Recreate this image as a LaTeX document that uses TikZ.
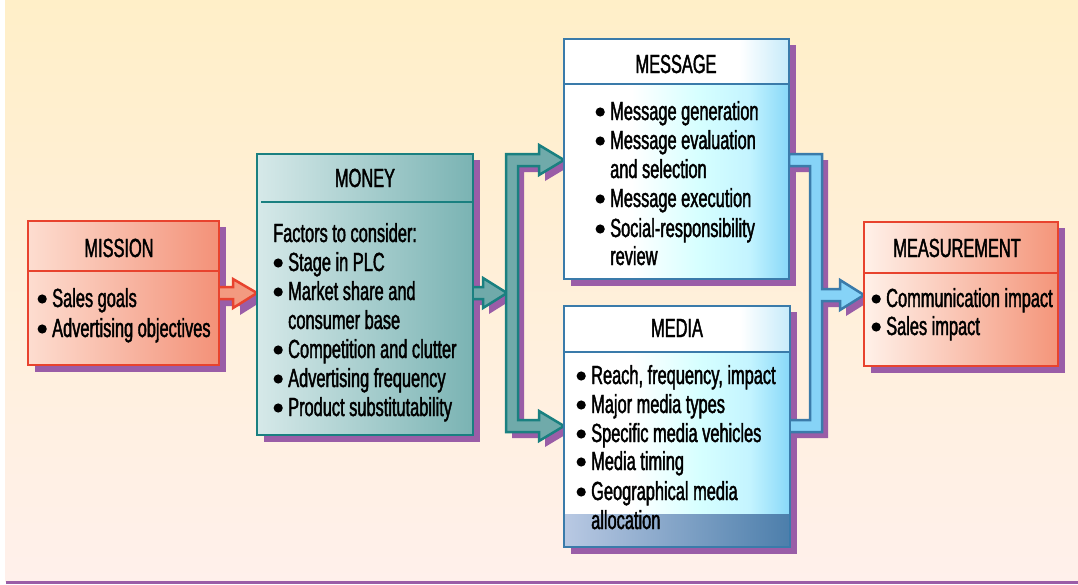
\documentclass[tikz,border=0pt]{standalone}
\usepackage{fontspec}
\usetikzlibrary{calc}
\newfontfamily\cff{Liberation Sans}[FakeStretch=0.625,FakeBold=1.6]
\definecolor{bgtop}{HTML}{FFEFC8}
\definecolor{bgbot}{HTML}{FFF0EB}
\definecolor{shad}{HTML}{9A5DA7}
\definecolor{redb}{HTML}{E8432E}
\definecolor{misL}{HTML}{FDDDD0}
\definecolor{misR}{HTML}{F39178}
\definecolor{meaL}{HTML}{FFF1E9}
\definecolor{meaR}{HTML}{F4957A}
\definecolor{marr}{HTML}{F39A80}
\definecolor{tealb}{HTML}{1A8080}
\definecolor{monL}{HTML}{D6E9E9}
\definecolor{monR}{HTML}{7AB3B3}
\definecolor{tealf}{HTML}{70AAAA}
\definecolor{blueb}{HTML}{3A7BAA}
\definecolor{bluef}{HTML}{86D3F7}
\definecolor{cyl}{HTML}{D6FFFF}
\definecolor{cym}{HTML}{C4F4FF}
\definecolor{skyb}{HTML}{88D8F8}
\definecolor{hdrb}{HTML}{C6EBFA}
\definecolor{bandL}{HTML}{B9C9E3}
\definecolor{bandR}{HTML}{4C7EAB}
\pgfdeclarehorizontalshading{msgshade}{100bp}{color(0bp)=(white); color(25bp)=(white); color(40bp)=(white); color(55bp)=(cyl); color(66bp)=(cym); color(75bp)=(skyb); color(100bp)=(skyb)}
\pgfdeclarehorizontalshading{hdrshade}{100bp}{color(0bp)=(white); color(25bp)=(white); color(64bp)=(white); color(75bp)=(hdrb); color(100bp)=(hdrb)}
\pgfdeclarelayer{bgl}
\pgfdeclarelayer{shl}
\pgfdeclarelayer{arl}
\pgfsetlayers{bgl,shl,arl,main}
\newcommand\bc{\makebox[15pt][l]{}}
\newcommand\bnode[3]{\node[txt] (#1) at (#2) {\bc #3};
  \fill ($(#1.base west)+(5.2,-8)$) circle (4.6pt);}
\begin{document}
\begin{tikzpicture}[x=1pt,y=-1pt,
  box/.style={anchor=north west, inner sep=0pt, outer sep=0pt},
  txt/.style={anchor=base west, inner sep=0pt, font=\fontsize{26.2}{29}\cff, text=black},
  hdr/.style={anchor=base, inner sep=0pt, font=\fontsize{26.2}{29}\cff, text=black},
  bord/.style={line width=2.5pt},
  tealfork/.style={insert path={(506,154) -- (539,154) -- (539,145) -- (564,160) -- (539,175) -- (539,166) -- (518,166) -- (518,420) -- (539,420) -- (539,411) -- (564,426) -- (539,441) -- (539,432) -- (506,432) -- cycle}},
  tealarr/.style={insert path={(472,287) -- (483,287) -- (483,278) -- (507,293) -- (483,308) -- (483,299) -- (472,299) -- cycle}},
  bluefork/.style={insert path={(789,154) -- (822,154) -- (822,289) -- (840,289) -- (840,280) -- (864,295) -- (840,310) -- (840,301) -- (822,301) -- (822,432) -- (789,432) -- (789,420) -- (810,420) -- (810,166) -- (789,166) -- cycle}},
  misarr/.style={insert path={(218,287) -- (233,287) -- (233,279) -- (257,293) -- (233,308) -- (233,299) -- (218,299) -- cycle}}]
\useasboundingbox (0,0) rectangle (1078,584);
\begin{pgfonlayer}{bgl}
\fill[white] (0,0) rectangle (1078,584);
\fill[top color=bgtop, bottom color=bgbot] (5,0) rectangle (1078,581);
\fill[shad] (6,581) rectangle (1078,584);
\end{pgfonlayer}
% boxes
\node[box, minimum width=191pt, minimum height=144pt, left color=misL, right color=misR] (mission) at (28,221) {};
\node[box, minimum width=216pt, minimum height=281pt, left color=monL, right color=monR] (money) at (257,154) {};
\node[box, minimum width=225pt, minimum height=240pt, shading=msgshade] (message) at (564,39) {};
\node[box, minimum width=226pt, minimum height=241pt, shading=msgshade] (media) at (564,306) {};
\node[box, minimum width=194pt, minimum height=144pt, left color=meaL, right color=meaR] (measurement) at (864,222) {};
% overlays
\fill[shading=hdrshade] (message.north west) rectangle (message.east |- 0,84);
\fill[shading=hdrshade] (media.north west) rectangle (media.east |- 0,352);
\fill[left color=bandL, right color=bandR] (media.west |- 0,514) rectangle (media.south east);
% borders
\draw[bord, redb] (mission.north west) rectangle (mission.south east);
\draw[bord, redb] (mission.west |- 0,271) -- (mission.east |- 0,271);
\draw[bord, tealb] (money.north west) rectangle (money.south east);
\draw[bord, tealb] (261,202) -- (money.east |- 0,202);
\draw[bord, blueb] (message.north west) rectangle (message.south east);
\draw[bord, blueb] (message.west |- 0,84) -- (message.east |- 0,84);
\draw[bord, blueb] (media.north west) rectangle (media.south east);
\draw[bord, blueb] (media.west |- 0,352) -- (media.east |- 0,352);
\draw[bord, redb] (measurement.north west) rectangle (measurement.south east);
\draw[bord, redb] (measurement.west |- 0,273) -- (measurement.east |- 0,273);
% shadows
\begin{pgfonlayer}{shl}
\foreach \n in {mission,money,message,media,measurement}
  \fill[shad] ($(\n.north west)+(7,6)$) rectangle ($(\n.south east)+(7,7)$);
\fill[shad, xshift=6pt, yshift=-6pt, tealfork];
\fill[shad, xshift=6pt, yshift=-6pt, tealarr];
\fill[shad, xshift=6pt, yshift=-6pt, bluefork];
\fill[shad, xshift=7pt, yshift=-7pt, misarr];
\end{pgfonlayer}
% connectors
\begin{pgfonlayer}{arl}
\filldraw[bord, fill=marr, draw=redb, line join=miter, misarr];
\filldraw[bord, fill=tealf, draw=tealb, line join=miter, tealarr];
\filldraw[bord, fill=tealf, draw=tealb, line join=miter, tealfork];
\filldraw[bord, fill=bluef, draw=blueb, line join=miter, bluefork];
\end{pgfonlayer}
% texts
\node[hdr] (hmission) at (119,257) {MISSION};
\bnode{mi1}{37,307}{Sales goals}
\bnode{mi2}{37,337}{Advertising objectives}
\node[hdr] (hmoney) at (365,187) {MONEY};
\node[txt] (mo0) at (273,242) {Factors to consider:};
\bnode{mo1}{273,271}{Stage in PLC}
\bnode{mo2}{273,300}{Market share and}
\node[txt] (mo3) at (273,329) {\bc consumer base};
\bnode{mo4}{273,358}{Competition and clutter}
\bnode{mo5}{273,387}{Advertising frequency}
\bnode{mo6}{273,416}{Product substitutability}
\node[hdr] (hmessage) at (676,73) {MESSAGE};
\bnode{me1}{595,120}{Message generation}
\bnode{me2}{595,149}{Message evaluation}
\node[txt] (me3) at (595,178) {\bc and selection};
\bnode{me4}{595,207}{Message execution}
\bnode{me5}{595,237}{Social-responsibility}
\node[txt] (me6) at (595,265) {\bc review};
\node[hdr] (hmedia) at (677,337) {MEDIA};
\bnode{md1}{576,384}{Reach, frequency, impact}
\bnode{md2}{576,413}{Major media types}
\bnode{md3}{576,442}{Specific media vehicles}
\bnode{md4}{576,470}{Media timing}
\bnode{md5}{576,500}{Geographical media}
\node[txt] (md6) at (576,529) {\bc allocation};
\node[hdr] (hmeas) at (957,257) {MEASUREMENT};
\bnode{ms1}{871,307}{Communication impact}
\bnode{ms2}{871,335}{Sales impact}
\end{tikzpicture}
\end{document}
